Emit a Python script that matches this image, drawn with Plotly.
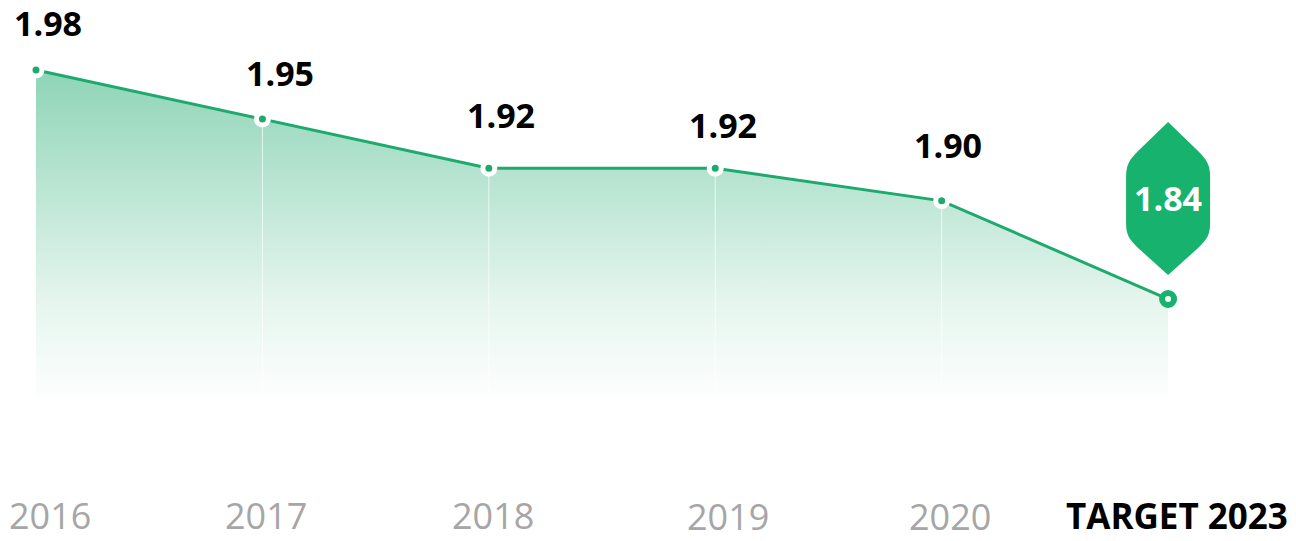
import plotly.graph_objects as go

# ---- data ----
years = ["2016", "2017", "2018", "2019", "2020", "TARGET 2023"]
values = [1.98, 1.95, 1.92, 1.92, 1.90, 1.84]
value_labels = ["1.98", "1.95", "1.92", "1.92", "1.90"]
target_label = "1.84"

# ---- style / positions ----
LINE = "#1eaa6e"
BADGE = "#16b26e"
Y_MIN, Y_MAX = 1.7752, 2.0228
X_MIN, X_MAX = -0.159, 5.565
label_dy = [47, 46, 53, 43, 56]
label_dx = [12, 18, 12, 8, 6]
tick_dx = [14, 4, 4, 13, 8, 9]
tick_dy = [-110, -110, -110, -111, -111, -110]

idx = list(range(len(years)))
hist_x = idx[:-1]
hist_y = values[:-1]

fig = go.Figure()

# gradient area + line
fig.add_trace(go.Scatter(
    x=idx, y=values, mode="lines",
    line=dict(color=LINE, width=3),
    fill="tozeroy",
    fillgradient=dict(
        type="vertical", start=Y_MIN, stop=values[0],
        colorscale=[[0, "rgba(30,170,110,0.0)"], [0.3, "rgba(30,170,110,0.11)"],
                    [1, "rgba(30,170,110,0.5)"]],
    ),
    hoverinfo="skip", showlegend=False,
))

# faint vertical drop lines (error bars from each point down to the axis floor)
fig.add_trace(go.Scatter(
    x=hist_x[1:], y=hist_y[1:], mode="markers",
    marker=dict(size=1, color="rgba(0,0,0,0)"),
    error_y=dict(type="data", symmetric=False,
                 array=[0] * (len(hist_y) - 1),
                 arrayminus=[v - Y_MIN for v in hist_y[1:]],
                 color="rgba(255,255,255,0.7)", thickness=1, width=0),
    hoverinfo="skip", showlegend=False,
))

# historic markers: green dot with white halo
fig.add_trace(go.Scatter(
    x=hist_x, y=hist_y, mode="markers",
    marker=dict(size=12, color=LINE, line=dict(color="white", width=5)),
    cliponaxis=False, hoverinfo="skip", showlegend=False,
))

# target marker: green ring
fig.add_trace(go.Scatter(
    x=[idx[-1]], y=[values[-1]], mode="markers",
    marker=dict(size=12, color="white", line=dict(color=BADGE, width=6)),
    cliponaxis=False, hoverinfo="skip", showlegend=False,
))

# leaf badge anchored above the target point
fig.add_shape(
    type="path", xref="x", yref="y",
    xsizemode="pixel", ysizemode="pixel",
    xanchor=idx[-1], yanchor=values[-1],
    path=("M 0 177 L 30 148 C 39 139 42 134 42 122 L 42 76 C 42 64 39 60 30 51 "
          "L 0 24 L -30 51 C -39 60 -42 64 -42 76 L -42 122 C -42 134 -39 139 -30 148 Z"),
    fillcolor=BADGE, line=dict(width=0), layer="above",
)

annotations = []
for i, (v, t) in enumerate(zip(hist_y, value_labels)):
    annotations.append(dict(
        x=hist_x[i], y=v, text=t, showarrow=False, borderpad=0,
        xshift=label_dx[i], yshift=label_dy[i],
        font=dict(family="Open Sans", size=34, color="black", weight="bold"),
    ))
annotations.append(dict(
    x=idx[-1], y=values[-1], text=target_label, showarrow=False, borderpad=0,
    yshift=101,
    font=dict(family="Open Sans", size=34, color="white", weight="bold"),
))
for i, yr in enumerate(years):
    is_target = i == len(years) - 1
    annotations.append(dict(
        x=idx[i], y=0, xref="x", yref="paper", text=yr, showarrow=False,
        borderpad=0,
        xshift=tick_dx[i], yshift=tick_dy[i], yanchor="middle",
        font=(dict(family="Open Sans", size=35, color="black", weight="bold") if is_target
              else dict(family="Open Sans", size=36, color="#a6a6a6", weight=400)),
    ))

fig.update_layout(
    width=1296, height=541,
    margin=dict(l=0, r=0, t=0, b=136),
    paper_bgcolor="white", plot_bgcolor="white",
    xaxis=dict(range=[X_MIN, X_MAX], visible=False, fixedrange=True),
    yaxis=dict(range=[Y_MIN, Y_MAX], visible=False, fixedrange=True),
    annotations=annotations,
    showlegend=False,
)

fig.write_html("out.html", config={"displayModeBar": False},
               post_script="document.body.style.margin='0';")
